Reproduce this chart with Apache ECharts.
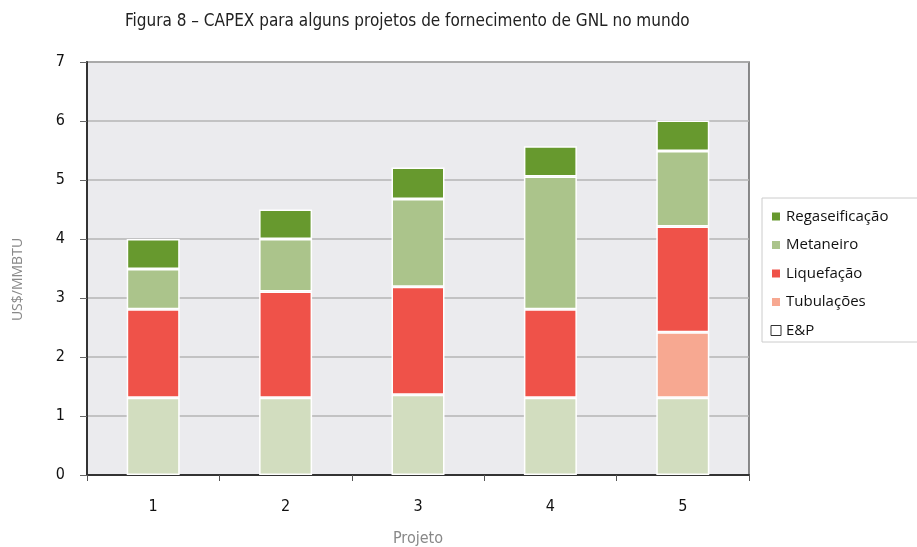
<!DOCTYPE html>
<html>
<head>
<meta charset="utf-8">
<script src="https://cdn.jsdelivr.net/npm/echarts@6/dist/echarts.min.js"></script>
<style>html,body{margin:0;padding:0;background:#fff;}#c{width:917px;height:547px;}</style>
</head>
<body>
<div id="c"></div>
<script>
const categories = ['1', '2', '3', '4', '5'];
const ep = [1.31, 1.31, 1.36, 1.31, 1.31];
const tubulacoes = [null, null, null, null, 1.11];
const liquefacao = [1.5, 1.8, 1.83, 1.5, 1.79];
const metaneiro = [0.68, 0.89, 1.49, 2.25, 1.28];
const regaseificacao = [0.51, 0.5, 0.53, 0.51, 0.52];
const yTicks = [0, 1, 2, 3, 4, 5, 6, 7];

const FONT = '"Liberation Sans Narrow", "DejaVu Sans Condensed", sans-serif';
const LFONT = '"Open Sans", "Noto Sans", sans-serif';

const chart = echarts.init(document.getElementById('c'), null, {renderer: 'canvas'});
const barStyle = (c) => ({color: c, borderColor: '#ffffff', borderWidth: 1.5});
const mk = (name, data, color) => ({
  name, type: 'bar', stack: 'total', data, barWidth: 53,
  itemStyle: barStyle(color), emphasis: {disabled: true}
});

chart.setOption({
  animation: false,
  backgroundColor: '#ffffff',
  title: {
    text: 'Figura 8 – CAPEX para alguns projetos de fornecimento de GNL no mundo',
    left: 120, top: 8,
    textStyle: {fontFamily: FONT, fontSize: 17, fontWeight: 'normal', color: '#222'}
  },
  grid: {left: 87, right: 168, top: 62, bottom: 72, show: true, outerBoundsMode: 'none', containLabel: false,
    backgroundColor: '#ebebee', borderColor: '#666', borderWidth: 1.5},
  legend: {
    orient: 'vertical', left: 762, top: 198,
    padding: [10, 30, 3, 8],
    itemGap: 11.5, itemWidth: 10, itemHeight: 10,
    icon: 'rect',
    borderColor: '#cccccc', borderWidth: 1,
    textStyle: {fontFamily: LFONT, fontSize: 15, color: '#111', lineHeight: 17},
    data: [
      {name: 'Regaseificação'},
      {name: 'Metaneiro'},
      {name: 'Liquefação'},
      {name: 'Tubulações'},
      {name: 'E&P', itemStyle: {color: '#ffffff', borderColor: '#333', borderWidth: 1}}
    ]
  },
  xAxis: {
    type: 'category', data: categories,
    name: 'Projeto', nameLocation: 'middle', nameGap: 56,
    nameTextStyle: {fontFamily: FONT, fontSize: 16, color: '#888'},
    axisLine: {lineStyle: {color: '#333', width: 2}},
    axisTick: {show: true, length: 6, lineStyle: {color: '#555'}},
    axisLabel: {fontFamily: FONT, fontSize: 16, color: '#111', margin: 24}
  },
  yAxis: {
    type: 'value', min: 0, max: 7, interval: 1,
    name: 'US$/MMBTU', nameLocation: 'middle', nameGap: 62,
    nameTextStyle: {fontFamily: LFONT, fontSize: 14, color: '#888', padding: [0, 22, 0, 0]},
    axisLine: {show: true, lineStyle: {color: '#333', width: 2}},
    axisTick: {show: true, length: 7, lineStyle: {color: '#666'}},
    axisLabel: {fontFamily: FONT, fontSize: 16, color: '#111', margin: 22,
      formatter: (v) => yTicks.includes(v) ? String(v) : ''},
    splitLine: {lineStyle: {color: '#b5b5b5', width: 1.5}}
  },
  series: [
    mk('E&P', ep, '#d2ddbf'),
    mk('Tubulações', tubulacoes, '#f7a891'),
    mk('Liquefação', liquefacao, '#ef5249'),
    mk('Metaneiro', metaneiro, '#abc48b'),
    mk('Regaseificação', regaseificacao, '#67992e')
  ]
});
</script>
</body>
</html>
